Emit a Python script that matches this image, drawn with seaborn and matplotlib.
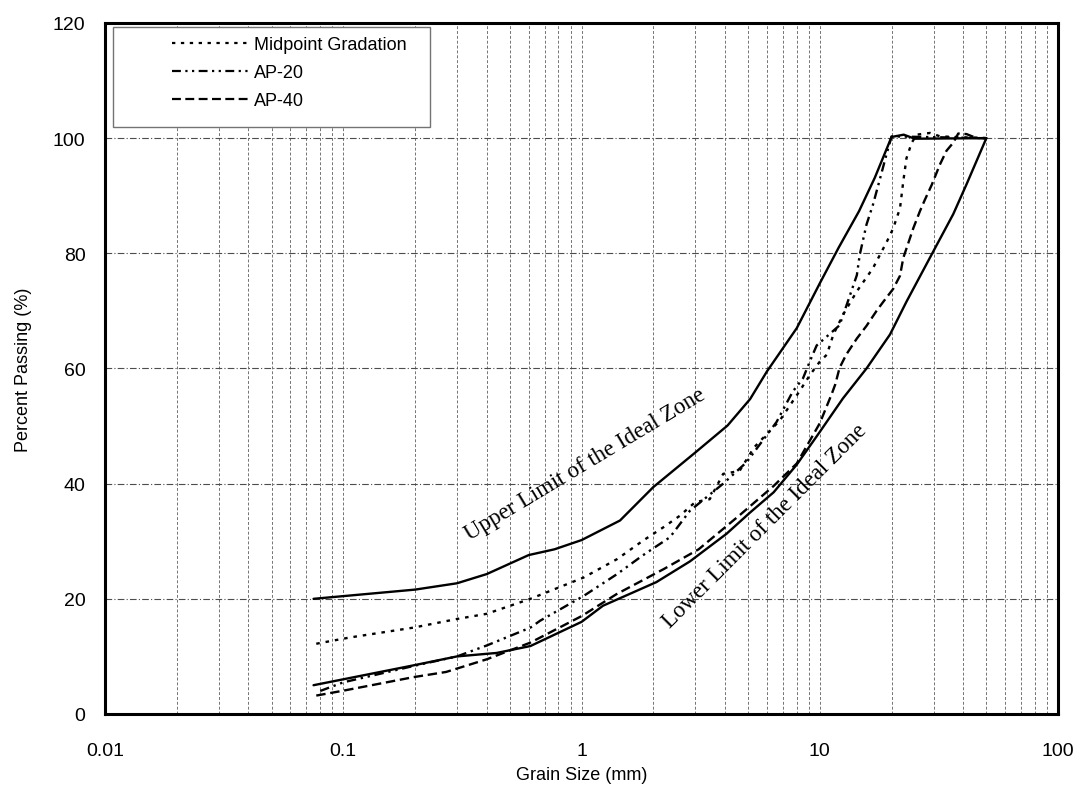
import pandas as pd
import matplotlib.pyplot as plt
import seaborn as sns
from matplotlib.lines import Line2D
from matplotlib.patches import Rectangle
from matplotlib.ticker import LogLocator, MultipleLocator, NullFormatter

# grain size (mm) / percent passing
upper_size = [0.075, 0.2, 0.3, 0.4, 0.6, 0.77, 1.0, 1.45, 2.0, 3.0, 4.1, 5.1, 6.0, 8.0,
              10, 12, 14.6, 17, 20, 22.5, 25, 50]
upper_pass = [20.0, 21.6, 22.7, 24.3, 27.6, 28.6, 30.2, 33.6, 39.4, 45.4, 50.1, 54.7, 59.5, 67.0,
              74.8, 81.0, 87.3, 93.1, 100.2, 100.6, 99.9, 100]

lower_size = [0.075, 0.2, 0.3, 0.44, 0.61, 1.0, 1.23, 2.06, 2.85, 4.06, 5.1, 6.4, 8.0, 10,
              12.5, 15.7, 19.7, 23.1, 30, 36.3, 41.3, 50]
lower_pass = [5.0, 8.5, 10.0, 10.6, 11.8, 16.0, 18.8, 22.9, 26.5, 31.3, 35.0, 38.5, 43.3, 49.0,
              54.8, 60.0, 65.9, 71.6, 80.4, 86.8, 92.0, 100]

mid_size = [0.077, 0.107, 0.197, 0.3, 0.4, 0.61, 1.02, 1.41, 1.81, 2.2, 2.58, 3.0, 3.45, 3.93,
            4.6, 5.3, 6.8, 8.2, 9.1, 10, 10.7, 11.4, 12.5, 14.3, 16.7, 19.1, 20.3, 21.7, 22.4,
            23.1, 24.3, 25.5, 29, 32, 50]
mid_pass = [12.2, 13.3, 15.0, 16.5, 17.4, 20.0, 23.7, 26.9, 30.1, 32.4, 34.4, 36.8, 37.3, 41.7,
            42.2, 46.3, 51.0, 56.0, 58.9, 61.2, 62.4, 65.9, 69.3, 73.4, 77.4, 82.0, 84.3, 87.8, 92.5,
            96.5, 99.2, 100.6, 100.9, 100.3, 100]

ap20_size = [0.08, 0.1, 0.2, 0.3, 0.4, 0.61, 0.67, 1.02, 1.41, 1.8, 2.35, 2.85, 3.93, 4.92,
             6.58, 7.7, 8.5, 9.2, 9.7, 12.1, 13.1, 14.3, 14.7, 15.7, 16.7, 17.9, 19.05, 20, 50]
ap20_pass = [4.0, 5.5, 8.4, 10.0, 11.9, 15.0, 16.2, 20.5, 24.3, 27.5, 30.7, 35.3, 40.0, 43.7,
             50.7, 56.0, 58.3, 61.8, 64.0, 67.5, 71.6, 76.2, 79.7, 85.0, 88.4, 93.0, 97.2, 100.3, 100]

ap40_size = [0.077, 0.1, 0.197, 0.27, 0.4, 0.61, 1.0, 1.4, 2.22, 3.1, 4.6, 6.4, 8.0, 10,
             11.2, 11.6, 12.1, 12.9, 14.3, 15.7, 17.3, 18.4, 20.3, 21.7, 22.4, 24.7, 26.3, 27.6,
             29.5, 31.9, 34.0, 36.3, 38.1, 41.3, 45.5, 50]
ap40_pass = [3.2, 4.05, 6.4, 7.3, 9.5, 12.4, 17.0, 20.8, 25.2, 28.6, 34.5, 39.6, 43.5, 50.5,
             55.5, 57.2, 60.1, 62.4, 65.2, 67.4, 70.0, 71.5, 73.8, 76.1, 79.2, 84.4, 87.3, 89.3,
             91.9, 95.4, 97.8, 99.2, 100.8, 100.7, 100.0, 100]

series_names = ["Midpoint Gradation", "AP-20", "AP-40"]
x_ticks = [0.01, 0.1, 1, 10, 100]
x_labels = ["0.01", "0.1", "1", "10", "100"]

sns.set_theme(style="white")
plt.rcParams["font.family"] = ["Liberation Sans", "DejaVu Sans"]
plt.rcParams["text.color"] = "black"
plt.rcParams["axes.labelcolor"] = "black"

limits = pd.concat([
    pd.DataFrame({"size": upper_size, "passing": upper_pass, "curve": "upper"}),
    pd.DataFrame({"size": lower_size, "passing": lower_pass, "curve": "lower"}),
])
grads = pd.concat([
    pd.DataFrame({"size": mid_size, "passing": mid_pass, "curve": series_names[0]}),
    pd.DataFrame({"size": ap20_size, "passing": ap20_pass, "curve": series_names[1]}),
    pd.DataFrame({"size": ap40_size, "passing": ap40_pass, "curve": series_names[2]}),
])
dash_map = {series_names[0]: (1.5, 2.5), series_names[1]: (4, 2, 1, 2, 1, 2), series_names[2]: (4, 2)}

fig = plt.figure(figsize=(10.83, 8.04), dpi=100)
ax = fig.add_axes([0.097, 0.1107, 0.880, 0.8595])

sns.lineplot(data=limits, x="size", y="passing", units="curve", estimator=None, sort=False,
             color="black", lw=1.7, ax=ax, legend=False)
sns.lineplot(data=grads, x="size", y="passing", style="curve", dashes=dash_map, estimator=None,
             sort=False, color="black", lw=1.7, ax=ax, legend=False)

ax.set_xscale("log")
ax.set_xlim(0.01, 100)
ax.set_ylim(0, 120)
ax.set_xticks(x_ticks, x_labels)
ax.xaxis.set_minor_locator(LogLocator(base=10, subs=range(2, 10)))
ax.xaxis.set_minor_formatter(NullFormatter())
ax.set_yticks(range(0, 121, 20))
ax.yaxis.set_minor_locator(MultipleLocator(2))

ax.set_axisbelow(True)
ax.grid(which="major", axis="y", ls=(0, (6, 2, 1, 2)), color="0.3", lw=0.8)
ax.grid(which="both", axis="x", ls=(0, (3, 2)), color="0.45", lw=0.7)

for s in ax.spines.values():
    s.set_linewidth(2.2)
    s.set_color("black")

ax.tick_params(axis="both", which="major", direction="out", length=4, width=0.8,
               colors="black", labelsize=14)
ax.tick_params(axis="x", which="major", pad=16)
ax.tick_params(axis="y", which="major", pad=10)
ax.tick_params(axis="x", which="minor", length=0)
ax.tick_params(axis="y", which="minor", direction="in", length=3, width=0.6, color="0.4")

ax.set_xlabel("Grain Size (mm)", fontsize=13)
ax.set_ylabel("Percent Passing (%)", fontsize=13)
ax.xaxis.set_label_coords(0.5, -0.075)
ax.yaxis.set_label_coords(-0.077, 0.5)

ax.text(1.03, 43.5, "Upper Limit of the Ideal Zone", rotation=31, fontsize=16.5,
        family=["Liberation Serif"], ha="center", va="center")
ax.text(5.9, 32.8, "Lower Limit of the Ideal Zone", rotation=45, fontsize=16.5,
        family=["Liberation Serif"], ha="center", va="center")

# legend: white box with grey frame, entries placed inside it
ax.add_patch(Rectangle((0.0084, 0.849), 0.333, 0.145, transform=ax.transAxes,
                       facecolor="white", edgecolor="0.45", lw=1, zorder=4))
handles = [Line2D([], [], color="black", lw=1.6, dashes=dash_map[n]) for n in series_names]
leg = ax.legend(handles, series_names, loc="upper left", bbox_to_anchor=(0.063, 0.991),
                frameon=False, fontsize=13, handlelength=4.3, handletextpad=0.25,
                labelspacing=0.6, borderpad=0.4, borderaxespad=0)
leg.set_zorder(5)

fig.savefig("out.png", dpi=100)
